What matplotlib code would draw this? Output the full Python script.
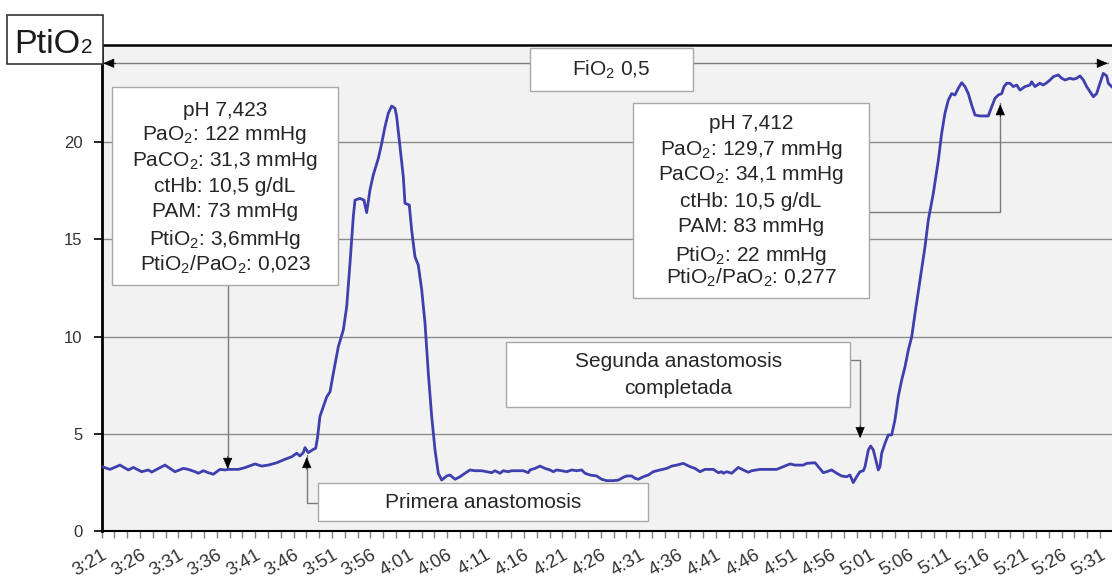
import matplotlib

matplotlib.use("Agg")
import matplotlib.pyplot as plt
from matplotlib.patches import Rectangle
from matplotlib.text import Annotation
from matplotlib.ticker import FixedLocator

plt.rcParams["font.family"] = ["Liberation Sans", "DejaVu Sans"]
plt.rcParams["mathtext.fontset"] = "custom"
plt.rcParams["mathtext.rm"] = "Liberation Sans"
plt.rcParams["mathtext.it"] = "Liberation Sans"
plt.rcParams["mathtext.default"] = "regular"

# PtiO2 trace (mmHg), time in minutes after 3:21
minutes = [
    0.0, 1.08, 2.38, 3.47, 4.12, 5.21, 6.07, 6.51, 7.16, 8.24, 9.54, 10.63,
    11.28, 12.15, 12.58, 13.23, 13.88, 14.53, 15.40, 16.05, 16.48, 17.79,
    18.66, 19.96, 20.83, 21.69, 22.79, 23.87, 24.74, 25.39, 25.82, 26.25,
    26.47, 26.9, 27.55, 27.86, 28.1, 28.42, 28.85, 29.3, 29.73, 30.16, 30.81,
    31.46, 31.9, 32.33, 32.76, 32.98, 33.63, 34.15, 34.5, 34.93, 35.36,
    36.02, 36.46, 36.89, 37.32, 37.76, 38.19, 38.41, 38.84, 39.27, 39.49,
    40.05, 40.36, 40.79, 41.22, 41.67, 42.1, 42.53, 42.97, 43.4, 43.83,
    44.27, 44.92, 45.35, 46.0, 46.65, 47.3, 47.96, 48.61, 49.48, 50.13,
    50.78, 51.21, 51.86, 52.29, 52.94, 53.39, 54.9, 55.55, 55.77, 56.42,
    57.07, 57.72, 58.37, 58.80, 59.24, 59.9, 60.55, 61.2, 61.85, 62.5,
    62.93, 63.58, 64.45, 65.1, 65.76, 66.62, 67.27, 67.92, 68.36, 69.01,
    69.44, 69.87, 70.52, 71.17, 71.82, 72.69, 73.57, 74.22, 74.87, 75.73,
    76.6, 77.25, 77.9, 78.55, 79.64, 80.29, 80.73, 80.94, 81.38, 82.03,
    82.89, 83.54, 84.19, 84.64, 85.72, 87.89, 88.75, 89.62, 90.27, 91.35,
    91.8, 92.88, 93.31, 93.96, 94.40, 95.05, 95.7, 96.35, 97.0, 97.43,
    97.86, 98.3, 98.73, 99.17, 99.39, 99.82, 100.13, 100.47, 100.91, 101.12,
    101.34, 101.56, 101.99, 102.42, 102.86, 103.29, 103.72, 104.17, 104.6,
    105.03, 105.47, 105.9, 106.55, 107.2, 107.63, 108.28, 108.94, 109.37,
    109.8, 110.23, 110.67, 111.1, 111.53, 111.98, 112.41, 112.84, 113.28,
    113.71, 114.36, 115.44, 115.89, 116.32, 116.75, 117.19, 117.49, 117.84,
    118.27, 118.7, 119.14, 119.57, 120.22, 120.87, 121.09, 121.52, 122.17,
    122.6, 123.05, 123.48, 123.91, 124.56, 125.0, 125.43, 126.08, 126.51,
    126.95, 127.38, 127.82, 128.25, 128.68, 129.12, 129.55, 129.98, 130.41,
    130.86, 131.07, 131.5,
]
ptio2 = [
    3.31, 3.17, 3.39, 3.14, 3.27, 3.05, 3.14, 3.03, 3.17, 3.39, 3.05, 3.22,
    3.17, 3.05, 2.97, 3.10, 3.00, 2.92, 3.17, 3.14, 3.17, 3.17,
    3.26, 3.45, 3.34, 3.39, 3.51, 3.69, 3.82, 4.00, 3.86, 4.03,
    4.29, 4.03, 4.20, 4.25, 4.8, 5.9, 6.39, 6.9, 7.16, 8.11, 9.48,
    10.34, 11.54, 13.77, 16.17, 17.02, 17.11, 17.02, 16.38, 17.54, 18.31,
    19.17, 19.94, 20.8, 21.49, 21.86, 21.74, 21.31, 19.77, 18.23, 16.86,
    16.77, 15.48, 14.11, 13.68, 12.40, 10.68, 8.11, 5.88, 4.17, 2.97,
    2.62, 2.83, 2.88, 2.66, 2.79, 2.97, 3.14, 3.10, 3.10, 3.05,
    3.00, 3.10, 2.97, 3.10, 3.05, 3.10, 3.10, 3.00, 3.14, 3.22,
    3.34, 3.22, 3.14, 3.05, 3.14, 3.10, 3.05, 3.14, 3.10, 3.14,
    2.97, 2.88, 2.83, 2.66, 2.59, 2.59, 2.62, 2.76, 2.83, 2.83,
    2.71, 2.66, 2.79, 2.88, 3.05, 3.14, 3.22, 3.34, 3.39, 3.48,
    3.31, 3.22, 3.05, 3.17, 3.17, 3.00, 3.05, 2.97, 3.05, 2.97,
    3.27, 3.14, 3.02, 3.10, 3.17, 3.17, 3.31, 3.45, 3.39, 3.39,
    3.48, 3.51, 3.31, 3.00, 3.05, 3.14, 2.97, 2.83, 2.79, 2.88,
    2.49, 2.79, 3.05, 3.10, 3.31, 4.17, 4.37, 4.17, 3.48, 3.14,
    3.31, 4.0, 4.51, 4.94, 4.94, 5.71, 6.91, 7.77, 8.45,
    9.31, 9.99, 11.19, 12.9, 14.62, 15.99, 17.36, 19.07, 20.45,
    21.49, 22.16, 22.5, 22.43, 22.77, 23.06, 22.86, 22.5, 21.91,
    21.4, 21.35, 21.35, 21.83, 22.26, 22.43, 22.5, 22.86, 23.03,
    23.03, 22.86, 22.94, 22.68, 22.86, 22.94, 23.11, 22.86, 23.03,
    22.94, 23.06, 23.2, 23.37, 23.46, 23.29, 23.2, 23.29, 23.24,
    23.29, 23.41, 23.2, 22.86, 22.6, 22.34, 22.5, 23.03, 23.54,
    23.41, 23.03, 22.86,
]

tick_minutes = [0, 5, 10, 15, 20, 25, 30, 35, 40, 45, 50, 55, 60, 65, 70,
                75, 80, 85, 90, 95, 100, 105, 110, 115, 120, 125, 130]
tick_labels = ["3:21", "3:26", "3:31", "3:36", "3:41", "3:46", "3:51", "3:56",
               "4:01", "4:06", "4:11", "4:16", "4:21", "4:26", "4:31", "4:36",
               "4:41", "4:46", "4:51", "4:56", "5:01", "5:06", "5:11", "5:16",
               "5:21", "5:26", "5:31"]
y_ticks = [0, 5, 10, 15, 20]

gas_before = ["pH 7,423", "PaO$_2$: 122 mmHg", "PaCO$_2$: 31,3 mmHg",
              "ctHb: 10,5 g/dL", "PAM: 73 mmHg", "PtiO$_2$: 3,6mmHg",
              "PtiO$_2$/PaO$_2$: 0,023"]
gas_after = ["pH 7,412", "PaO$_2$: 129,7 mmHg", "PaCO$_2$: 34,1 mmHg",
             "ctHb: 10,5 g/dL", "PAM: 83 mmHg", "PtiO$_2$: 22 mmHg",
             "PtiO$_2$/PaO$_2$: 0,277"]

W, H = 1112, 583
LINE = "#3f3fae"
EDGE = "#a8a8a8"
CONN = "#7a7a7a"
TXT = 15

fig = plt.figure(figsize=(W / 100, H / 100), dpi=100)
ax = fig.add_axes([101.7 / W, 1 - 531 / H, (W - 101.7) / W, (531 - 45) / H])
ax.set_facecolor("#f2f2f2")
ax.set_xlim(0, 131.55)
ax.set_ylim(0, 25)

for v in y_ticks[1:]:
    ax.axhline(v, color="#8c8c8c", lw=1.0, zorder=1)

ax.plot(minutes, ptio2, color=LINE, lw=2.0, zorder=3, solid_joinstyle="round")

ax.spines["right"].set_visible(False)
ax.spines["top"].set_linewidth(1.8)
ax.spines["left"].set_linewidth(2.0)
ax.spines["bottom"].set_linewidth(1.5)

ax.xaxis.set_major_locator(FixedLocator(tick_minutes))
ax.xaxis.set_minor_locator(FixedLocator([i * 5 / 3 for i in range(80)]))
ax.set_xticklabels(tick_labels)
ax.yaxis.set_major_locator(FixedLocator(y_ticks))
ax.tick_params(axis="x", which="both", length=5, width=1, color="#7f7f7f",
               labelsize=13.5, labelcolor="#333333", pad=6)
ax.tick_params(axis="y", length=6, width=1.2, color="black",
               labelsize=12, labelcolor="#333333", pad=8)
for lab in ax.get_xticklabels():
    lab.set_rotation(30)
    lab.set_ha("right")
    lab.set_va("top")
    lab.set_rotation_mode("anchor")


def box(x0, x1, y0, y1):
    ax.add_patch(Rectangle((x0, y0), x1 - x0, y1 - y0, facecolor="white",
                           edgecolor=EDGE, lw=1.0, zorder=4, clip_on=False))


def head(tip, direction):
    # black triangular head drawn on the end of a grey connector
    dx, dy = {"up": (0, -9), "down": (0, 9), "left": (9, 0), "right": (-9, 0)}[direction]
    ax.annotate("", xy=tip, xytext=(dx, dy), textcoords="offset points",
                arrowprops=dict(arrowstyle="-|>,head_length=0.7,head_width=0.3",
                                color="black", lw=0.5, shrinkA=0, shrinkB=0),
                zorder=5, annotation_clip=False)


def connector(xs, ys):
    ax.plot(xs, ys, color=CONN, lw=1.0, zorder=2, clip_on=False)


# FiO2 span across the whole record
connector([0.2, 131.0], [24.06, 24.06])
head((0.2, 24.06), "left")
head((131.0, 24.06), "right")
box(55.77, 76.98, 22.62, 24.83)
ax.text(66.4, 23.72, "FiO$_2$ 0,5", ha="center", va="center", fontsize=TXT,
        color="#262626", zorder=6)

# blood gas before the first anastomosis
connector([16.4, 16.4], [12.65, 3.3])
head((16.4, 3.2), "down")
box(1.34, 30.77, 12.65, 22.83)
for text, y in zip(gas_before, [21.65, 20.36, 19.02, 17.70, 16.42, 15.0, 13.68]):
    ax.text(16.05, y, text, ha="center", va="center", fontsize=TXT,
            color="#262626", zorder=6)

# blood gas after the second anastomosis
connector([99.92, 117.0, 117.0], [16.42, 16.42, 22.0])
head((117.0, 21.95), "up")
box(69.18, 99.92, 11.98, 22.02)
for text, y in zip(gas_after, [20.96, 19.59, 18.3, 16.93, 15.65, 14.19, 13.0]):
    ax.text(84.55, y, text, ha="center", va="center", fontsize=TXT,
            color="#262626", zorder=6)

# first anastomosis
connector([28.16, 26.7, 26.7], [1.44, 1.44, 3.9])
head((26.7, 3.8), "up")
box(28.16, 71.14, 0.51, 2.47)
ax.text(49.65, 1.47, "Primera anastomosis", ha="center", va="center",
        fontsize=TXT, color="#262626", zorder=6)

# second anastomosis completed
connector([97.45, 98.75, 98.75], [8.79, 8.79, 4.9])
head((98.75, 4.78), "down")
box(52.64, 97.45, 6.38, 9.73)
ax.text(75.05, 8.70, "Segunda anastomosis", ha="center", va="center",
        fontsize=TXT, color="#262626", zorder=6)
ax.text(75.05, 7.35, "completada", ha="center", va="center",
        fontsize=TXT, color="#262626", zorder=6)

# axis title box in the top-left corner
fig.patches.append(Rectangle((7.3 / W, 1 - 64 / H), 95.4 / W, 49 / H,
                             transform=fig.transFigure, facecolor="white",
                             edgecolor="#333333", lw=1.2, zorder=5))
title = fig.text(14 / W, 1 - 53 / H, "PtiO", ha="left", va="baseline",
                 fontsize=24.5, color="#1a1a1a", zorder=6)
sub = Annotation("2", xy=(1, 0), xycoords=title, xytext=(0.5, 2.5),
                 textcoords="offset points", ha="left", va="bottom",
                 fontsize=15, color="#1a1a1a", annotation_clip=False)
sub.set_zorder(6)
fig.add_artist(sub)

fig.savefig("out.png", dpi=100)
